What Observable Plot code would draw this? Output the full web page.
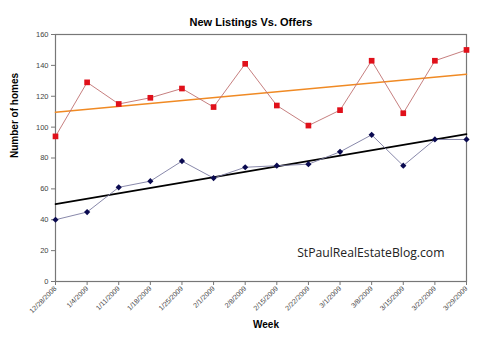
<!DOCTYPE html>
<html><head><meta charset="utf-8">
<script src="https://cdn.jsdelivr.net/npm/d3@7"></script>
<script src="https://cdn.jsdelivr.net/npm/@observablehq/plot@0.6"></script>
<style>
html,body{margin:0;padding:0;background:#fff;}
#chart svg{display:block;}
</style>
</head><body><div id="chart"></div>
<script>
const weekLabels = ["12/28/2008","1/4/2009","1/11/2009","1/18/2009","1/25/2009","2/1/2009","2/8/2009","2/15/2009","2/22/2009","3/1/2009","3/8/2009","3/15/2009","3/22/2009","3/29/2009"];
const newListings = [94,129,115,119,125,113,141,114,101,111,143,109,143,150];
const offers = [40,45,61,65,78,67,74,75,76,84,95,75,92,92];
const yTicks = [0,20,40,60,80,100,120,140,160];
const title = "New Listings Vs. Offers";
const yLabel = "Number of homes";
const xLabel = "Week";
const watermark = "StPaulRealEstateBlog.com";

const parse = d3.utcParse("%m/%d/%Y");
const dates = weekLabels.map(parse);
const listingsData = dates.map((d,i)=>({date:d, value:newListings[i]}));
const offersData = dates.map((d,i)=>({date:d, value:offers[i]}));
const fmt = d3.utcFormat("%-m/%-d/%Y");

const chart = Plot.plot({
  width: 500, height: 342,
  marginLeft: 55, marginRight: 34, marginTop: 34, marginBottom: 61,
  style: {fontFamily: "Liberation Sans, Arial, sans-serif", background: "#fff"},
  x: {type: "utc", domain: [dates[0], dates[dates.length-1]]},
  y: {domain: [0,160]},
  marks: [
    Plot.frame({stroke: "#777", strokeWidth: 1.2}),
    Plot.axisY({ticks: yTicks, tickSize: 4, tickPadding: 3, fontSize: 7.5, fill: "#444", stroke:"#777", label: null}),
    Plot.axisX({ticks: dates, tickFormat: fmt, tickSize: 4, tickRotate: -45, tickPadding: 2, fontSize: 7, fill: "#444", stroke:"#777", label: null}),
    Plot.linearRegressionY(offersData, {x: "date", y: "value", stroke: "#000", strokeWidth: 1.6, ci: 0}),
    Plot.linearRegressionY(listingsData, {x: "date", y: "value", stroke: "#f08a24", strokeWidth: 1.6, ci: 0}),
    Plot.line(listingsData, {x: "date", y: "value", stroke: "#c07070", strokeWidth: 0.9}),
    Plot.line(offersData, {x: "date", y: "value", stroke: "#7a7aa0", strokeWidth: 0.9}),
    Plot.dot(listingsData, {x: "date", y: "value", symbol: "square", r: 3.2, fill: "#e0101a", stroke: "none"}),
    Plot.dot(offersData, {x: "date", y: "value", symbol: "diamond2", r: 2.8, fill: "#0a0a50", stroke: "none"}),
    Plot.text([title], {frameAnchor: "top", dy: -16, dx: -10, text: d=>d, fontSize: 11, fontWeight: "bold", fill: "#000"}),
    Plot.text([yLabel], {frameAnchor: "left", dx: -41, rotate: -90, text: d=>d, fontSize: 10, fontWeight: "bold", fill: "#000"}),
    Plot.text([xLabel], {frameAnchor: "bottom", dy: 46, dx: 5, text: d=>d, fontSize: 10, fontWeight: "bold", fill: "#000"}),
    Plot.text([watermark], {frameAnchor: "bottom-right", dx: -22, dy: -25, textAnchor: "end", text: d=>d, fontSize: 12.2, fill: "#222", fontFamily: "Open Sans, sans-serif"})
  ]
});
document.getElementById("chart").appendChild(chart);
</script>
</body></html>
